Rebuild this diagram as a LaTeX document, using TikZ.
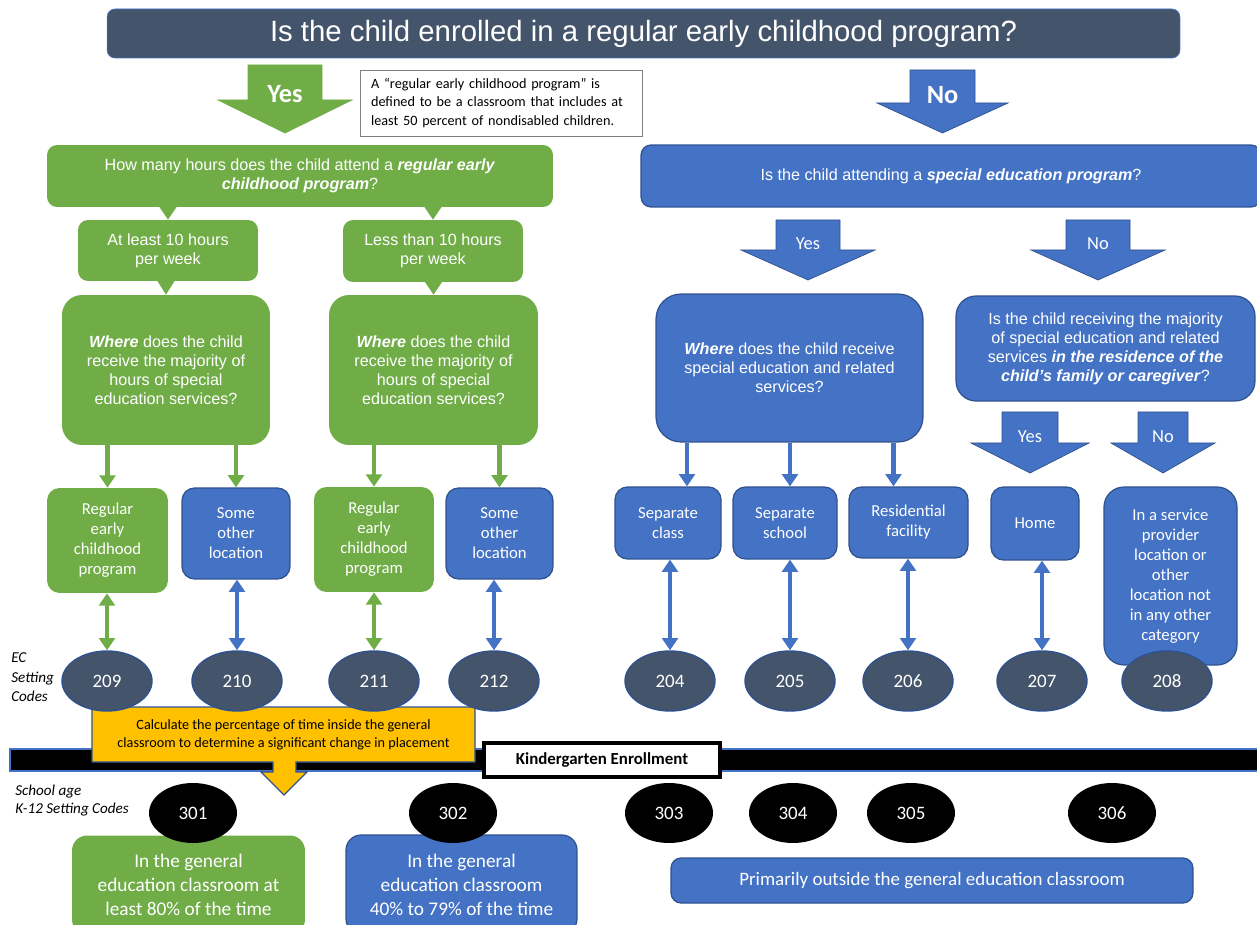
\documentclass[tikz,border=0pt]{standalone}
\usepackage{fontspec}
\setmainfont{Carlito}
\newfontfamily\arialfont{Liberation Sans}
\usetikzlibrary{arrows.meta,calc,shapes.geometric}

\definecolor{ecgreen}{HTML}{70AD47}
\definecolor{ecblue}{HTML}{4472C4}
\definecolor{ecline}{HTML}{2F528F}
\definecolor{ecslate}{HTML}{44546A}
\definecolor{ecgold}{HTML}{FFC000}

\tikzset{
    asks/.style={text=white, align=center, inner sep=0pt, font=\arialfont\fontsize{9.2}{10.8}\selectfont},
    says/.style={text=white, align=center, inner sep=0pt, font=\fontsize{9.5}{11.4}\selectfont},
    greenbox/.style={fill=ecgreen},
    bluebox/.style={fill=ecblue, draw=ecline, line width=0.7pt},
    eccode/.style={ellipse, fill=ecslate, draw=ecline, line width=0.8pt, text=white, minimum width=1.8cm, minimum height=1.2cm, font=\fontsize{10.8}{12}\selectfont},
    sacode/.style={ellipse, fill=black, text=white, minimum width=1.76cm, minimum height=1.2cm, font=\fontsize{10.8}{12}\selectfont},
    twoway/.style={{Triangle[width=9pt,length=7pt]}-{Triangle[width=9pt,length=7pt]}, line width=2.6pt},
    oneway/.style={-{Triangle[width=9pt,length=7pt]}, line width=2.6pt},
}

\begin{document}
\begin{tikzpicture}[x=0.02cm, y=-0.02cm]
    \clip (0,0) rectangle (1257,925);
    % top question
    \node[fill=ecslate, draw=ecblue, rounded corners=0.16cm, minimum width=21.46cm, minimum height=0.98cm, text=white, font=\arialfont\fontsize{16.7}{19}\selectfont] (enrolled) at (643.5,33.5) {Is the child enrolled in a regular early childhood program?};

    % yes / no arrows
    \filldraw[fill=ecgreen, draw=ecgreen] (248,65) --++ (74,0) --++ (0,35) --++ (30,0) --++ (-67,33) --++ (-67,-33) --++ (30,0) -- cycle;
    \node[text=white, font=\bfseries\fontsize{15}{18}\selectfont] (yes) at (285,94) {Yes};
    \filldraw[fill=ecblue, draw=ecline] (910,70) --++ (65,0) --++ (0,33) --++ (33,0) --++ (-65.5,30) --++ (-65.5,-30) --++ (33,0) -- cycle;
    \node[text=white, font=\bfseries\fontsize{15}{18}\selectfont] (no) at (942.5,95) {No};
    \foreach \x/\y/\w/\h/\e/\t/\l/\n in {776/220/64/30/35/30/Yes/spyes, 1066/220/64/30/35/30/No/spno, 1002/412/56/31/31/30/Yes/homeyes, 1138/412/50/31/27/30/No/homeno}{
        \filldraw[fill=ecblue, draw=ecline] (\x,\y) --++ (\w,0) --++ (0,\h) --++ (\e,0) --++ ({-\w/2-\e},\t) --++ ({-\w/2-\e},-\t) --++ (\e,0) -- cycle;
        \node[text=white, font=\fontsize{10.5}{12}\selectfont] (\n) at ({\x+\w/2},{\y+\h-6}) {\l};
    }

    \node[draw=gray, line width=0.5pt, fill=white, align=left, inner xsep=0.22cm, inner ysep=0pt, text width=5.2cm, minimum height=1.32cm, font=\fontsize{8.1}{10.8}\selectfont] (defn) at (501,103) {A “regular early childhood program” is\\ defined to be a classroom that includes at\\ least 50 percent of nondisabled children.};

    % green side
    \node[greenbox, asks, rounded corners=0.2cm, minimum width=10.12cm, minimum height=1.24cm] (hours) at (300,176) {How many hours does the child attend a \textbf{\textit{regular early}}\\ \textbf{\textit{childhood program}}?};
    \node[greenbox, asks, rounded corners=0.2cm, minimum width=3.6cm, minimum height=1.22cm] (atleast) at (168,250.5) {At least 10 hours\\ per week};
    \node[greenbox, asks, rounded corners=0.2cm, minimum width=3.6cm, minimum height=1.24cm] (lessthan) at (433,251) {Less than 10 hours\\ per week};
    \node[greenbox, asks, rounded corners=0.4cm, minimum width=4.16cm, minimum height=3cm] (whereA) at (166,370) {\textbf{\textit{Where}} does the child\\ receive the majority of\\ hours of special\\ education services?};
    \node[greenbox, asks, rounded corners=0.4cm, minimum width=4.18cm, minimum height=3cm] (whereB) at (433.5,370) {\textbf{\textit{Where}} does the child\\ receive the majority of\\ hours of special\\ education services?};
    \foreach \a/\b in {hours/atleast, hours/lessthan, atleast/whereA, lessthan/whereB}
        \fill[ecgreen] ($(\a.south -| \b.north)+(-9,-1)$) --++ (18,0) -- (\b.north) -- cycle;

    \node[greenbox, says, rounded corners=0.25cm, minimum width=2.42cm, minimum height=2.1cm] (regA) at (107.5,540.5) {Regular\\ early\\ childhood\\ program};
    \node[bluebox, says, rounded corners=0.25cm, minimum width=2.16cm, minimum height=1.82cm] (othA) at (236,533.5) {Some\\ other\\ location};
    \node[greenbox, says, rounded corners=0.25cm, minimum width=2.4cm, minimum height=2.1cm] (regB) at (374,539.5) {Regular\\ early\\ childhood\\ program};
    \node[bluebox, says, rounded corners=0.25cm, minimum width=2.14cm, minimum height=1.82cm] (othB) at (499.5,533.5) {Some\\ other\\ location};
    \foreach \a/\b in {whereA/regA, whereA/othA, whereB/regB, whereB/othB}
        \draw[oneway, ecgreen] (\a.south -| \b.north) -- (\b.north);

    % blue side
    \node[bluebox, asks, rounded corners=0.2cm, minimum width=12.4cm, minimum height=1.24cm] (spec) at (951,176) {Is the child attending a \textbf{\textit{special education program}}?};
    \node[bluebox, asks, rounded corners=0.5cm, minimum width=5.34cm, minimum height=2.96cm] (whereC) at (789.5,368) {\textbf{\textit{Where}} does the child receive\\ special education and related\\ services?};
    \node[bluebox, asks, rounded corners=0.4cm, minimum width=5.98cm, minimum height=2.1cm] (resid) at (1105.5,348.5) {Is the child receiving the majority\\ of special education and related\\ services \textbf{\textit{in the residence of the}}\\ \textbf{\textit{child’s family or caregiver}}?};

    \node[bluebox, says, rounded corners=0.25cm, minimum width=2.12cm, minimum height=1.44cm] (sepclass) at (668,523) {Separate\\ class};
    \node[bluebox, says, rounded corners=0.25cm, minimum width=2.08cm, minimum height=1.44cm] (sepschool) at (785,523) {Separate\\ school};
    \node[bluebox, says, rounded corners=0.25cm, minimum width=2.38cm, minimum height=1.42cm] (residfac) at (908.5,522.5) {Residential\\ facility};
    \node[bluebox, says, rounded corners=0.25cm, minimum width=1.76cm, minimum height=1.46cm] (home) at (1035,523.5) {Home};
    \node[bluebox, says, rounded corners=0.4cm, minimum width=2.66cm, minimum height=3.56cm] (provider) at (1170.5,576) {In a service\\ provider\\ location or\\ other\\ location not\\ in any other\\ category};
    \foreach \b/\dx in {sepclass/19, sepschool/5, residfac/-15}
        \draw[oneway, ecblue] ($(whereC.south -| \b.north)+(\dx,0)$) -- ($(\b.north)+(\dx,0)$);

    % kindergarten line
    \filldraw[fill=black, draw=ecblue, line width=0.6pt] (10,749) rectangle (1270,771);
    \filldraw[fill=ecgold, draw=ecline, line width=0.7pt] (92,707) -- (475,707) -- (475,762) -- (296,762) -- (296,772) -- (307,772) -- (284,795) -- (261,772) -- (273,772) -- (273,762) -- (92,762) -- cycle;
    \node[align=center, inner sep=0pt, font=\fontsize{8.1}{10.2}\selectfont] (calc) at (283.5,735) {Calculate the percentage of time inside the general\\ classroom to determine a significant change in placement};
    \node[fill=white, draw=black, line width=2pt, minimum width=4.72cm, minimum height=0.68cm, font=\bfseries\fontsize{9.6}{11}\selectfont] (kinder) at (602,760) {Kindergarten Enrollment};

    % setting codes
    \foreach \c/\x in {209/107, 210/237, 211/374, 212/494, 204/670, 205/790, 206/908, 207/1042, 208/1167}
        \node[eccode] (c\c) at (\x,681) {\c};
    \foreach \b/\c/\col in {regA/209/ecgreen, othA/210/ecblue, regB/211/ecgreen, othB/212/ecblue, sepclass/204/ecblue, sepschool/205/ecblue, residfac/206/ecblue, home/207/ecblue}
        \draw[twoway, \col] (c\c.north |- \b.south) -- (c\c.north);

    \node[anchor=north west, align=left, inner sep=0pt, font=\itshape\fontsize{8.6}{11.3}\selectfont] (eclabel) at (11,652) {EC\\ Setting\\ Codes};
    \node[anchor=north west, align=left, inner sep=0pt, font=\itshape\fontsize{8.6}{10.2}\selectfont] (salabel) at (15,785) {School age\\ K-12 Setting Codes};

    % school age
    \node[greenbox, text=white, align=center, rounded corners=0.3cm, minimum width=4.66cm, minimum height=1.98cm, font=\fontsize{11}{13.6}\selectfont] (gen80) at (188.5,885) {In the general\\ education classroom at\\ least 80\% of the time};
    \node[bluebox, text=white, align=center, rounded corners=0.3cm, minimum width=4.62cm, minimum height=1.98cm, font=\fontsize{11}{13.6}\selectfont] (gen40) at (461.5,884.5) {In the general\\ education classroom\\ 40\% to 79\% of the time};
    \node[bluebox, text=white, rounded corners=0.2cm, minimum width=10.44cm, minimum height=0.9cm, font=\fontsize{10.8}{12}\selectfont] (outside) at (932,880.5) {Primarily outside the general education classroom};
    \foreach \c/\x in {301/193, 302/453, 303/669, 304/793, 305/911, 306/1112}
        \node[sacode] (s\c) at (\x,813) {\c};
\end{tikzpicture}
\end{document}
